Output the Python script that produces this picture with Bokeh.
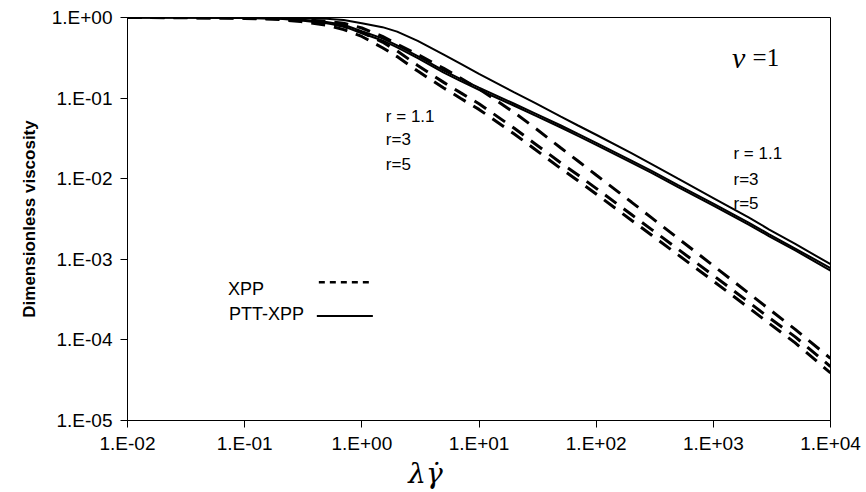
import numpy as np
from bokeh.plotting import figure
from bokeh.models import Label, Arrow, FixedTicker, CustomJSTickFormatter, Range1d
from bokeh.embed import file_html
from bokeh.resources import INLINE

# shear rate (lambda * gamma-dot)
shear = [0.01, 0.03, 0.1, 0.2, 0.3, 0.5, 0.7, 1, 1.5, 2, 3, 5, 7, 10, 20, 30, 50, 70,
         100, 200, 300, 500, 1000, 2000, 3000, 5000, 10000]

# PTT-XPP (solid)
ptt_r11 = [1.0, 1.0, 1.0, 0.995, 0.986, 0.962, 0.933, 0.851, 0.759, 0.668, 0.513, 0.347,
           0.266, 0.2, 0.1175, 0.0871, 0.0589, 0.0457, 0.0351, 0.0207, 0.0151, 0.01,
           0.00575, 0.00331, 0.00234, 0.00155, 0.00087]
ptt_r3 = [1.0, 0.998, 0.989, 0.973, 0.942, 0.877, 0.813, 0.676, 0.55, 0.452, 0.331, 0.219,
          0.172, 0.135, 0.0851, 0.0646, 0.0457, 0.0359, 0.0279, 0.0168, 0.01245, 0.00832,
          0.0049, 0.00285, 0.00204, 0.00136, 0.000776]
ptt_r5 = [1.0, 0.998, 0.984, 0.962, 0.92, 0.847, 0.776, 0.638, 0.519, 0.427, 0.313, 0.2065,
          0.162, 0.127, 0.0804, 0.061, 0.0432, 0.0339, 0.0263, 0.01585, 0.01175, 0.00785,
          0.00462, 0.00269, 0.00193, 0.00129, 0.000724]

# XPP (dashed)
xpp_r11 = [1.0, 0.998, 0.991, 0.973, 0.944, 0.895, 0.851, 0.741, 0.582, 0.468, 0.347, 0.234,
           0.176, 0.13, 0.0661, 0.0427, 0.024, 0.0166, 0.0111, 0.00513, 0.00324, 0.00182,
           0.000832, 0.00038, 0.00024, 0.000135, 0.0000589]
xpp_r3 = [1.0, 0.998, 0.989, 0.968, 0.933, 0.861, 0.776, 0.653, 0.4955, 0.3846, 0.2541,
          0.1567, 0.1161, 0.0851, 0.0422, 0.0272, 0.01567, 0.0111, 0.00759, 0.00359,
          0.00232, 0.001334, 0.000631, 0.000295, 0.000188, 0.000109, 0.0000468]
xpp_r5 = [1.0, 0.993, 0.975, 0.942, 0.891, 0.804, 0.708, 0.582, 0.4217, 0.3273, 0.2163,
          0.1334, 0.0989, 0.0724, 0.0359, 0.02317, 0.01334, 0.00944, 0.00646, 0.003055,
          0.001972, 0.001135, 0.000537, 0.000251, 0.00016, 0.0000918, 0.0000389]

x_ticks = [0.01, 0.1, 1, 10, 100, 1000, 10000]
y_ticks = [1e-5, 1e-4, 1e-3, 1e-2, 1e-1, 1]
r_labels = ["r = 1.1", "r=3", "r=5"]

SANS = "Liberation Sans"
SERIF = "Liberation Serif"

p = figure(width=866, height=492, x_axis_type="log", y_axis_type="log",
           x_range=Range1d(0.01, 10000), y_range=Range1d(1e-5, 1),
           output_backend="svg", toolbar_location=None,
           min_border_left=127, min_border_right=36, min_border_top=17,
           min_border_bottom=70)
p.background_fill_color = "white"
p.border_fill_color = "white"
p.outline_line_color = "black"
p.outline_line_width = 1
p.grid.visible = False

fmt = CustomJSTickFormatter(code="""
const e = Math.round(Math.log10(tick));
const s = e < 0 ? "-" : "+";
return "1.E" + s + String(Math.abs(e)).padStart(2, "0");
""")

for ax, ticks in ((p.xaxis[0], x_ticks), (p.yaxis[0], y_ticks)):
    ax.ticker = FixedTicker(ticks=ticks, minor_ticks=[])
    ax.formatter = fmt
    ax.major_tick_out = 7
    ax.major_tick_in = 0
    ax.minor_tick_out = 0
    ax.minor_tick_in = 0
    ax.axis_line_color = "black"
    ax.major_tick_line_color = "black"
    ax.major_label_text_font = SANS
    ax.major_label_text_font_size = "19px"
    ax.major_label_text_color = "black"

p.yaxis.major_label_standoff = 8
p.xaxis.major_label_standoff = 5
p.yaxis.axis_label = "Dimensionless viscosity"
p.yaxis.axis_label_text_font = SANS
p.yaxis.axis_label_text_font_style = "bold"
p.yaxis.axis_label_text_font_size = "17px"
p.yaxis.axis_label_text_color = "black"
p.yaxis.axis_label_standoff = 10

# x-axis title; trailing no-break spaces shift the visible title left of the frame centre
p.xaxis.axis_label = "\u03bb\u03b3\u0307" + "\u00a0" * 12
p.xaxis.axis_label_text_font = "DejaVu Serif"
p.xaxis.axis_label_text_font_style = "italic"
p.xaxis.axis_label_text_font_size = "28px"
p.xaxis.axis_label_text_color = "black"
p.xaxis.axis_label_standoff = 0

for ys in (ptt_r11, ptt_r3, ptt_r5):
    p.line(shear, ys, line_color="black", line_width=2)
for ys in (xpp_r11, xpp_r3, xpp_r5):
    p.line(shear, ys, line_color="black", line_width=3, line_dash="14 9")

def lab(x, y, text, font=SANS, size="17px", style="normal", align="left"):
    p.add_layout(Label(x=x, y=y, text=text, text_font=font, text_font_size=size,
                       text_font_style=style, text_align=align,
                       text_baseline="alphabetic", text_color="black"))

for t, y in zip(r_labels, [0.0592, 0.0303, 0.0149]):
    lab(1.603, y, t)
for t, y in zip(r_labels, [0.0204, 0.00973, 0.00491]):
    lab(1486, y, t)

lab(1440, 0.3206, "\u03bd", font=SERIF, size="30px", style="italic")
lab(2163, 0.3206, "=1", font=SERIF, size="25px")

lab(0.0719, 0.000427, "XPP", size="18px")
lab(0.0735, 0.000209, "PTT-XPP", size="18px")
p.add_layout(Arrow(end=None, x_start=0.4295, y_start=0.00052, x_end=1.194, y_end=0.00052,
                   line_color="black", line_width=2.5, line_dash="6 5"))
p.add_layout(Arrow(end=None, x_start=0.413, y_start=0.000198, x_end=1.242, y_end=0.000198,
                   line_color="black", line_width=2))

open("out.html", "w").write(file_html(p, INLINE))
